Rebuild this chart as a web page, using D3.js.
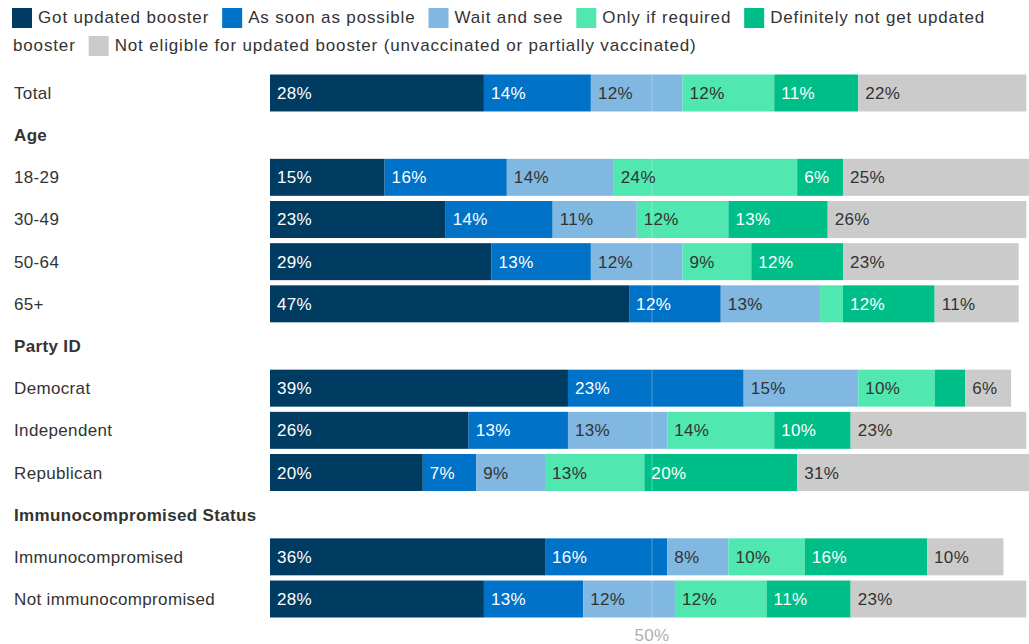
<!DOCTYPE html>
<html lang="en">
<head>
<meta charset="utf-8">
<title>Updated booster plans</title>
<script src="https://d3js.org/d3.v7.min.js"></script>
<style>
body { margin:0; background:#fff; font-family:"Liberation Sans", Arial, sans-serif; }
</style>
</head>
<body>
<div id="chart"></div>
<script>

// categories (rows) - headers have no values
var rows = ["Total", "Age", "18-29", "30-49", "50-64", "65+", "Party ID",
            "Democrat", "Independent", "Republican", "Immunocompromised Status",
            "Immunocompromised", "Not immunocompromised"];
var headers = ["Age", "Party ID", "Immunocompromised Status"];

var series = ["Got updated booster", "As soon as possible", "Wait and see",
              "Only if required", "Definitely not get updated booster",
              "Not eligible for updated booster (unvaccinated or partially vaccinated)"];
var colors = ["#003b62", "#0073c9", "#80b8e1", "#50e7b0", "#00be87", "#cbcbcb"];
var labelColors = ["#fff", "#fff", "#333", "#333", "#fff", "#333"];

// values per series, aligned with rows (null = header row)
var gotBooster   = [28, null, 15, 23, 29, 47, null, 39, 26, 20, null, 36, 28];
var asSoon       = [14, null, 16, 14, 13, 12, null, 23, 13,  7, null, 16, 13];
var waitSee      = [12, null, 14, 11, 12, 13, null, 15, 13,  9, null,  8, 12];
var onlyRequired = [12, null, 24, 12,  9,  3, null, 10, 14, 13, null, 10, 12];
var definitelyNo = [11, null,  6, 13, 12, 12, null,  4, 10, 20, null, 16, 11];
var notEligible  = [22, null, 25, 26, 23, 11, null,  6, 23, 31, null, 10, 23];

var values = [gotBooster, asSoon, waitSee, onlyRequired, definitelyNo, notEligible];

var W = 1029, H = 644;

var svg = d3.select("#chart").append("svg")
  .attr("width", W)
  .attr("height", H)
  .style("display", "block");

// legend - words flow and wrap like the original html legend
var legendG = svg.append("g")
  .attr("font-size", 17)
  .attr("letter-spacing", 0.85)
  .attr("fill", "#333");

function measure(s) {
  var t = legendG.append("text").text(s);
  var w = t.node().getComputedTextLength();
  t.remove();
  return w;
}

var lx = 12, line = 0, lineH = 28, maxX = 1012;
series.forEach(function(name, i) {
  var words = name.split(" ");
  if (lx + 26 + measure(words[0]) > maxX) { line++; lx = 12; }
  legendG.append("rect")
    .attr("x", lx)
    .attr("y", 8 + line * lineH)
    .attr("width", 20)
    .attr("height", 20)
    .attr("fill", colors[i]);
  var start = lx + 26, cur = [];
  words.forEach(function(w) {
    var trial = cur.concat([w]).join(" ");
    if (cur.length && start + measure(trial) > maxX) {
      legendG.append("text").attr("x", start).attr("y", 23 + line * lineH).text(cur.join(" "));
      line++;
      start = 13;
      cur = [w];
    } else {
      cur.push(w);
    }
  });
  var t = legendG.append("text").attr("x", start).attr("y", 23 + line * lineH).text(cur.join(" "));
  lx = start + t.node().getComputedTextLength() + 13;
});

var x = d3.scaleLinear().domain([0, 100]).range([270, 1034]);
var y = d3.scaleBand().domain(rows).range([74.5, 617.5]).paddingInner(0.123).paddingOuter(0);

// row labels
svg.selectAll("text.rowlabel")
  .data(rows)
  .enter().append("text")
    .attr("class", "rowlabel")
    .attr("x", 14)
    .attr("y", function(d) { return y(d) + y.bandwidth() / 2 + 6; })
    .attr("font-size", 17)
    .attr("letter-spacing", 0.35)
    .attr("font-weight", function(d) { return headers.indexOf(d) >= 0 ? "bold" : "normal"; })
    .attr("fill", "#333")
    .text(function(d) { return d; });

// stack segments
var segs = [];
rows.forEach(function(r, ri) {
  if (headers.indexOf(r) >= 0) return;
  var acc = 0;
  values.forEach(function(arr, si) {
    var v = arr[ri];
    segs.push({ row: r, s: si, x0: acc, x1: acc + v, v: v });
    acc += v;
  });
});

svg.selectAll("rect.seg")
  .data(segs)
  .enter().append("rect")
    .attr("class", "seg")
    .attr("x", function(d) { return x(d.x0); })
    .attr("y", function(d) { return y(d.row); })
    .attr("width", function(d) { return x(d.x1) - x(d.x0); })
    .attr("height", y.bandwidth())
    .attr("fill", function(d) { return colors[d.s]; });

// 50% marker line
svg.append("line")
  .attr("x1", x(50)).attr("x2", x(50))
  .attr("y1", y("Total")).attr("y2", y("Not immunocompromised") + y.bandwidth())
  .attr("stroke", "#fff")
  .attr("stroke-opacity", 0.3)
  .attr("stroke-width", 1);

svg.append("text")
  .attr("x", x(50))
  .attr("y", 641)
  .attr("text-anchor", "middle")
  .attr("font-size", 17)
  .attr("letter-spacing", 0.35)
  .attr("fill", "#b0b0b0")
  .text("50%");

// value labels
svg.selectAll("text.val")
  .data(segs.filter(function(d) { return d.v >= 5; }))
  .enter().append("text")
    .attr("class", "val")
    .attr("x", function(d) { return x(d.x0) + 7; })
    .attr("y", function(d) { return y(d.row) + y.bandwidth() / 2 + 6; })
    .attr("font-size", 17)
    .attr("letter-spacing", 0.35)
    .attr("fill", function(d) { return labelColors[d.s]; })
    .text(function(d) { return d.v + "%"; });

</script>
</body>
</html>
